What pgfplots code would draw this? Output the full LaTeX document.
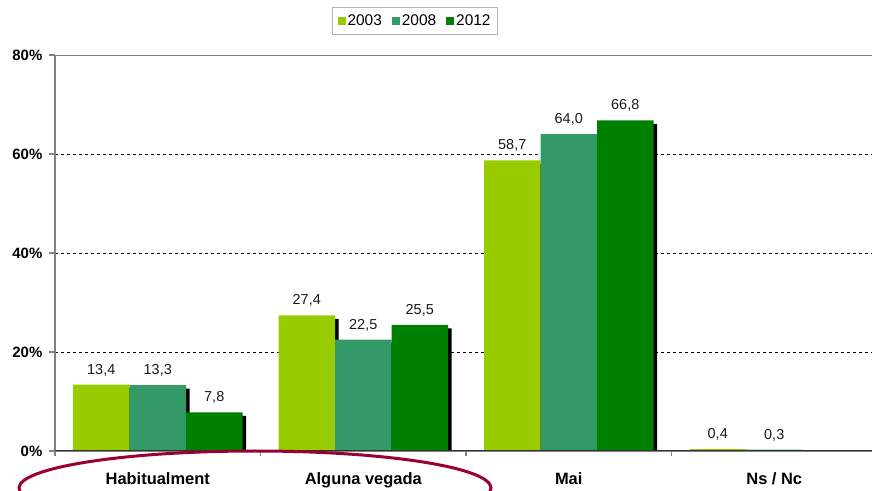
\documentclass[border=0pt]{standalone}
\usepackage{pgfplots}
\pgfplotsset{compat=1.18}
\usepackage{fontspec}
\setmainfont{Liberation Sans}
\usetikzlibrary{shadows}
\definecolor{cA}{HTML}{99CC00}
\definecolor{cB}{HTML}{339966}
\definecolor{cC}{HTML}{008000}
\definecolor{ell}{HTML}{990033}
\definecolor{axgray}{HTML}{808080}
\pgfplotsset{sqleg/.style={legend image code/.code={\fill[##1] (0bp,-4bp) rectangle (8bp,4bp);}}}
\begin{document}
\begin{tikzpicture}
\useasboundingbox (0bp,0bp) rectangle (872bp,491bp);
\clip (0bp,0bp) rectangle (872bp,491bp);
\begin{axis}[
  at={(55bp,40bp)}, anchor=south west,
  scale only axis, width=822bp, height=396bp,
  xmin=-0.5, xmax=3.5, ymin=0, ymax=80,
  ybar=0pt, bar width=56.5bp,
  axis x line*=bottom, axis y line*=left,
  axis line style={draw=axgray, line width=1.6bp, -},
  tick align=outside,
  tick style={draw=axgray, line width=1.2bp},
  xtick={-0.5,0.5,1.5,2.5},
  xticklabels={},
  extra x ticks={0,1,2,3},
  extra x tick labels={Habitualment, Alguna vegada, Mai, Ns / Nc},
  extra x tick style={major tick length=0pt, grid=none,
    xticklabel style={font=\bfseries\fontsize{16.5}{18}\selectfont, anchor=base, yshift=-33bp, inner sep=0pt}},
  major tick length=5.5bp,
  ytick={0,20,40,60,80},
  yticklabels={0\%,20\%,40\%,60\%,80\%},
  yticklabel style={font=\bfseries\fontsize{15}{17}\selectfont, anchor=east, inner sep=0pt, xshift=-7bp},
  ymajorgrids,
  y grid style={black, dash pattern=on 3bp off 3bp, line width=0.8bp},
  nodes near coords,
  nodes near coords style={font=\fontsize{14.5}{16}\selectfont, text=black!90, anchor=base, yshift=10.5bp, inner sep=0pt},
  /pgf/number format/.cd, use comma, fixed, fixed zerofill, precision=1, assume math mode=true, /pgfplots/.cd,
  legend columns=3,
  legend style={at={(0.438,1.086)}, anchor=center, draw=black!30, line width=0.8bp,
    font=\fontsize{15.5}{17}\selectfont, inner xsep=5bp, inner ysep=5bp,
    nodes={inner sep=2bp},
    /tikz/every even column/.append style={column sep=8bp}},
]
\addlegendimage{sqleg, fill=cA, draw=none}
\addlegendimage{sqleg, fill=cB, draw=none}
\addlegendimage{sqleg, fill=cC, draw=none}
\legend{2003,2008,2012}
\addplot[fill=cA, draw=none, bar shift=-56.5bp, drop shadow={shadow xshift=3.5bp, shadow yshift=-3.5bp, fill=black, opacity=1}]
  coordinates {(0,13.4) (1,27.4) (2,58.7) (3,0.4)};
\addplot[fill=cB, draw=none, bar shift=0bp, drop shadow={shadow xshift=3.5bp, shadow yshift=-3.5bp, fill=black, opacity=1}]
  coordinates {(0,13.3) (1,22.5) (2,64.0) (3,0.3)};
\addplot[fill=cC, draw=none, bar shift=56.5bp, drop shadow={shadow xshift=3.5bp, shadow yshift=-3.5bp, fill=black, opacity=1}]
  coordinates {(0,7.8) (1,25.5) (2,66.8)};
\draw[draw=black!80, line width=1.4bp] (rel axis cs:0,0) -- (rel axis cs:1,0);
\draw[draw=axgray, line width=1.6bp] (rel axis cs:0,1) -- (rel axis cs:1,1);
\end{axis}
\draw[ell, line width=3bp] (255bp,3bp) ellipse [x radius=236bp, y radius=37bp];
\end{tikzpicture}
\end{document}
